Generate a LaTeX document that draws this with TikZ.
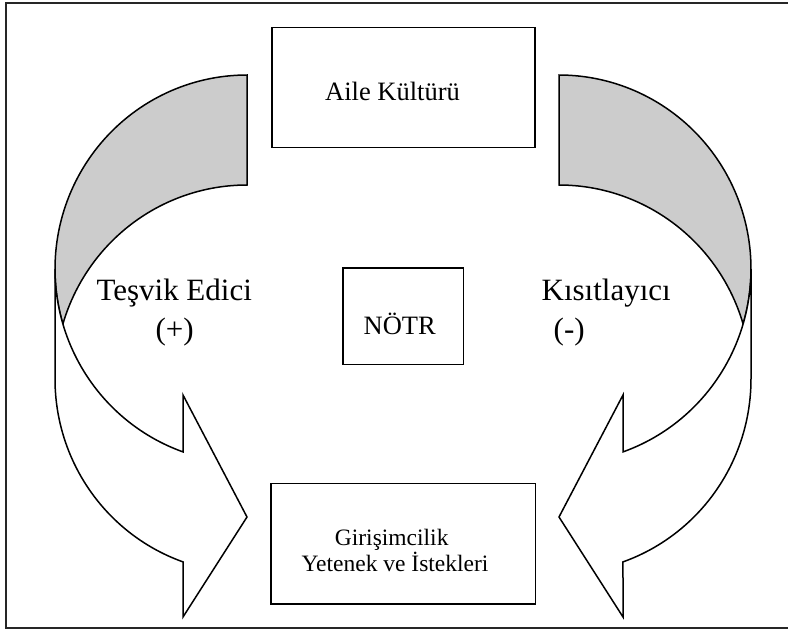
\documentclass[tikz,border=0pt]{standalone}
\usepackage{fontspec}
\setmainfont{Liberation Serif}
\newcommand\turnarrow{%
  \filldraw[shapeline, fill=black!20] (247,75)
    -- plot[domain=270:163.53, samples=70] ({247+192*cos(\x)},{269+194*sin(\x)})
    -- plot[domain=196.47:270, samples=50] ({247+192*cos(\x)},{379+194*sin(\x)})
    -- cycle;
  \filldraw[shapeline, fill=white]
    plot[domain=180:109.47, samples=50] ({247+192*cos(\x)},{269+194*sin(\x)})
    -- (183,395) -- (247,517) -- (183,617)
    -- plot[domain=109.47:180, samples=50] ({247+192*cos(\x)},{379+194*sin(\x)})
    -- cycle;
}
\begin{document}
\begin{tikzpicture}[x=1pt, y=-1pt,
  box/.style={draw, line width=1.6pt, fill=white, inner sep=0pt},
  shapeline/.style={draw=black, line width=1.5pt, line join=miter},
  lbl/.style={anchor=base, inner sep=0pt}]
\useasboundingbox (0,0) rectangle (788,629);
% frame (cropped at the right)
\draw[line width=2pt, black!85] (788,3.3) -- (6,3.3) -- (6,627.5) -- (788,627.5);

% curved arrows
\turnarrow
\begin{scope}[xshift=806pt, xscale=-1]
  \turnarrow
\end{scope}

% boxes
\node[box, minimum width=263.3pt, minimum height=120pt] (aile) at (403.35,87.3) {};
\node[box, minimum width=120.6pt, minimum height=96.6pt] (notr) at (403,316) {};
\node[box, minimum width=264.6pt, minimum height=120.7pt] (giris) at (403,543.65) {};

% texts
\node[lbl, font=\fontsize{26.5}{30}\selectfont] (tAile) at (392.5,100.7) {Aile Kültürü};
\node[lbl, font=\fontsize{26.5}{30}\selectfont] (tNotr) at (399.7,334) {NÖTR};
\node[lbl, font=\fontsize{23.5}{27}\selectfont] (tG1) at (391.7,545) {Girişimcilik};
\node[lbl, font=\fontsize{23.5}{27}\selectfont] (tG2) at (395,571.7) {Yetenek ve İstekleri};
\node[lbl, font=\fontsize{31}{36}\selectfont] (tTes) at (174.2,300.7) {Teşvik Edici};
\node[lbl, font=\fontsize{31}{36}\selectfont] (tPlus) at (174.7,339) {(+)};
\node[lbl, font=\fontsize{31}{36}\selectfont] (tKis) at (606.2,300.7) {Kısıtlayıcı};
\node[lbl, font=\fontsize{31}{36}\selectfont] (tMinus) at (569.2,339) {(-)};
\end{tikzpicture}
\end{document}
